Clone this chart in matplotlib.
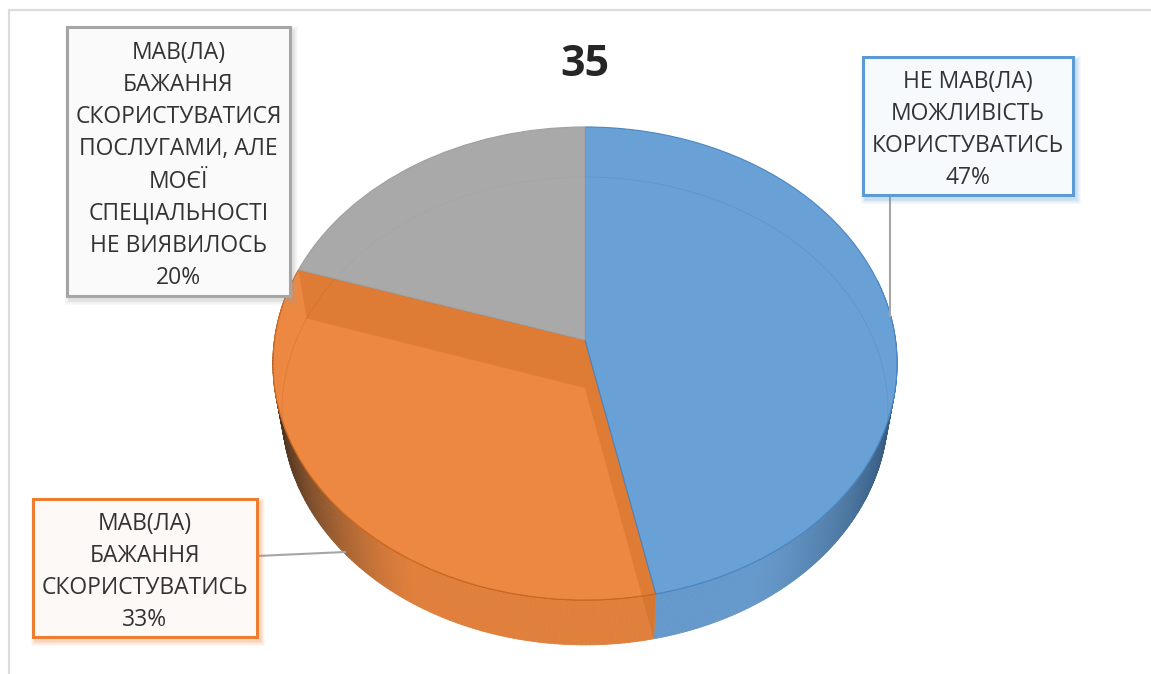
import numpy as np
import matplotlib
matplotlib.use('Agg')
import matplotlib.pyplot as plt
from matplotlib.collections import PolyCollection
from matplotlib.patches import Polygon, Rectangle
from matplotlib.transforms import Transform
from matplotlib.colors import to_rgb

title = '35'
labels = ['НЕ МАВ(ЛА)\nМОЖЛИВІСТЬ\nКОРИСТУВАТИСЬ',
          'МАВ(ЛА)\nБАЖАННЯ\nСКОРИСТУВАТИСЬ',
          'МАВ(ЛА)\nБАЖАННЯ\nСКОРИСТУВАТИСЯ\nПОСЛУГАМИ, АЛЕ\nМОЄЇ\nСПЕЦІАЛЬНОСТІ\nНЕ ВИЯВИЛОСЬ']
values = [46.7, 33.3, 20.0]
colors = ['#69a0d6', '#ec8842', '#a9a9a9']
edges = ['#4a86c2', '#c9661f', '#a0a0a0']
walls = ['#6699cb', '#e0803c', '#a0a0a0']
darks = ['#35587c', '#4a3422', '#606060']
box_edges = ['#5b9bd5', '#ed7d31', '#a5a5a5']
box_faces = ['#f7fafd', '#fdf9f6', '#fafafa']

W, H = 1151, 674
plt.rcParams['font.family'] = ['Open Sans', 'DejaVu Sans']


class Persp(Transform):
    # unit disk -> tilted disk in pixel coords
    input_dims = 2
    output_dims = 2

    def __init__(self, cx, cy, a, b, k):
        super().__init__()
        self.p = (cx, cy, a, b, k)

    def transform_non_affine(self, xy):
        cx, cy, a, b, k = self.p
        xy = np.asarray(xy, dtype=float)
        w = 1 + k * xy[:, 1]
        return np.column_stack([cx + a * xy[:, 0] / w, cy - b * xy[:, 1] / w])


top = Persp(585, 340, 310.5, 234.2, 0.0994)
bot = Persp(585, 388, 301.5, 231.7, 0.098)


def rim(deg):
    # clockwise from 12 o'clock
    t = np.radians(deg)
    return np.column_stack([np.sin(t), np.cos(t)])


def mix(a, b, f):
    a, b = np.array(to_rgb(a)), np.array(to_rgb(b))
    return tuple(a + (b - a) * f)


fig = plt.figure(figsize=(W / 100, H / 100), dpi=100)
ax = fig.add_axes([0, 0, 1, 1])

wedges, _ = ax.pie(values, startangle=90, counterclock=False, colors=colors)
ax.set_aspect('auto')
ax.set_xlim(0, W)
ax.set_ylim(H, 0)
ax.axis('off')

stops = np.concatenate([[0], np.cumsum(values) / np.sum(values) * 360])

# outer frame of the slide
ax.plot([9, 9, W], [H, 10, 10], color='#dcdcdc', lw=1.6, zorder=0, solid_joinstyle='miter')

# side wall, front half only
for i in range(2):
    a0 = max(stops[i], 75)
    a1 = min(stops[i + 1], 285)
    th = np.linspace(a0, a1, 160)
    p_top = top.transform_non_affine(rim(th))
    p_bot = bot.transform_non_affine(rim(th))
    quads, cols = [], []
    for j in range(len(th) - 1):
        quads.append([p_top[j], p_top[j + 1], p_bot[j + 1], p_bot[j]])
        u = abs(np.sin(np.radians(th[j])))
        f = np.clip((u - 0.5) / 0.48, 0, 1) ** 1.4
        cols.append(mix(walls[i], darks[i], f))
    ax.add_collection(PolyCollection(quads, facecolors=cols, edgecolors=cols, linewidths=0.6, zorder=1))
    ax.plot(p_top[:, 0], p_top[:, 1], color=edges[i], lw=0.8, zorder=2)

# top faces
for i, w in enumerate(wedges):
    w.set_transform(top + ax.transData)
    w.set_edgecolor(edges[i])
    w.set_linewidth(0.8)
    w.set_zorder(5 if i != 1 else 3)

# cut faces seen through the orange slice
for k in (1, 2):
    e = rim(np.array([stops[k]]))
    vt = top.transform_non_affine(np.array([[0.0, 0.0]]))[0]
    vb = bot.transform_non_affine(np.array([[0.0, 0.0]]))[0]
    et = top.transform_non_affine(e)[0]
    eb = bot.transform_non_affine(e)[0]
    ax.add_patch(Polygon([vt, et, eb, vb], closed=True, facecolor='#c8661e', alpha=0.38,
                         edgecolor='none', zorder=4))

# back rim of the base, faint through the faces
th = np.linspace(0, 360, 720)
pts = bot.transform_non_affine(rim(th))
for i, w in enumerate(wedges):
    ln, = ax.plot(pts[:, 0], pts[:, 1], color=edges[i], lw=0.7, alpha=0.35, zorder=6)
    ln.set_clip_path(w)

# leader lines
ax.plot([890, 890], [195, 316], color='#a6a6a6', lw=1.5, zorder=7)
ax.plot([257, 345], [556, 552], color='#a6a6a6', lw=1.5, zorder=7)

# label boxes
boxes = [(863, 57, 210, 138), (33, 499, 224, 138), (67, 27, 223, 269)]
for i, (x, y, bw, bh) in enumerate(boxes):
    for g in range(6, 0, -1):
        ax.add_patch(Rectangle((x + 3 - g * 0.8, y + 4 - g * 0.8), bw + 1.6 * g, bh + 1.6 * g,
                               facecolor=box_edges[i], edgecolor='none', alpha=0.06, zorder=8))
    ax.add_patch(Rectangle((x, y), bw, bh, facecolor=box_faces[i], edgecolor=box_edges[i], lw=2.2, zorder=9))
    txt = labels[i] + '\n%.0f%%' % values[i]
    ax.text(x + bw / 2, y + bh / 2 + 4, txt, ha='center', va='center', ma='center', fontsize=16.5,
            color='#333333', linespacing=1.46, zorder=10)

ax.text(585, 65, title, ha='center', va='center', fontsize=31, fontweight='bold', color='#262626', zorder=10)

fig.savefig('out.png', dpi=100)
